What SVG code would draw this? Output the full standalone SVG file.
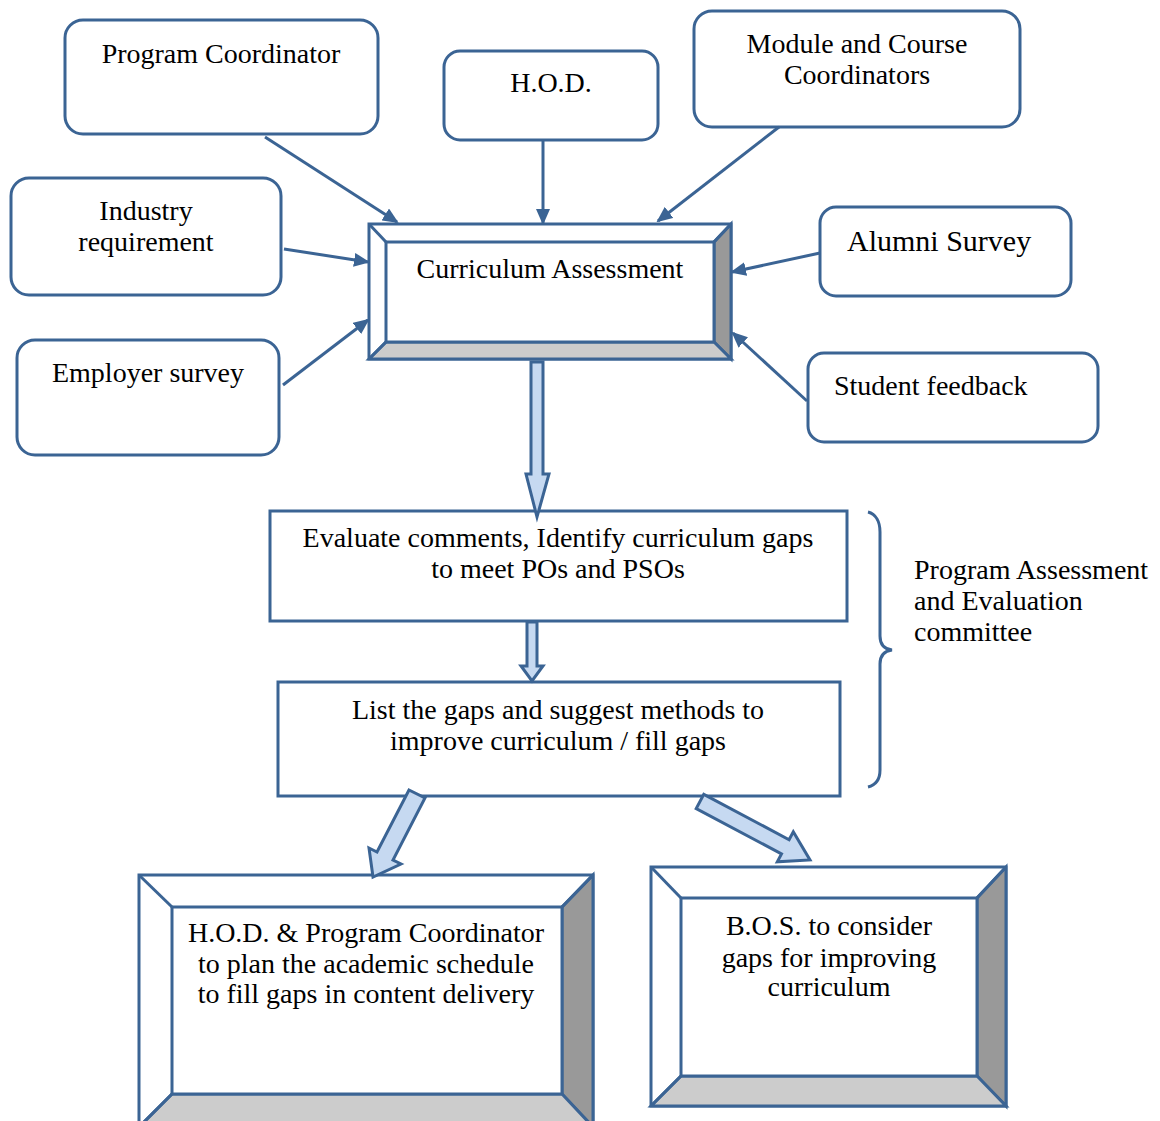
<svg xmlns="http://www.w3.org/2000/svg" width="1160" height="1121" viewBox="0 0 1160 1121">
<style>
.box{fill:#fff;stroke:#3B6494;stroke-width:3}
.ln{fill:none;stroke:#3B6494;stroke-width:3}
.blk{fill:#C6D9F1;stroke:#3B6494;stroke-width:3;stroke-linejoin:miter}
.dk{fill:#999999;stroke:#3B6494;stroke-width:3}
.lt{fill:#CCCCCC;stroke:#3B6494;stroke-width:3}
text{font-family:"Liberation Serif","Times New Roman",serif;font-size:28px;fill:#000}
.c{text-anchor:middle}
</style>
<defs>
<marker id="ah" markerUnits="userSpaceOnUse" markerWidth="16" markerHeight="14" refX="14" refY="7" orient="auto">
<path d="M0,0 L16,7 L0,14 Z" fill="#3B6494"/>
</marker>
</defs>
<rect width="1160" height="1121" fill="#fff"/>

<g id="program-coordinator">
<rect class="box" x="65" y="20" width="313" height="114" rx="18"/>
<text class="c" x="221" y="63">Program Coordinator</text>
</g>
<g id="hod">
<rect class="box" x="444" y="51" width="214" height="89" rx="16"/>
<text class="c" x="551" y="92">H.O.D.</text>
</g>
<g id="module-course">
<rect class="box" x="694" y="11" width="326" height="116" rx="18"/>
<text class="c" x="857" y="53">Module and Course</text>
<text class="c" x="857" y="84">Coordinators</text>
</g>
<g id="industry">
<rect class="box" x="11" y="178" width="270" height="117" rx="18"/>
<text class="c" x="146" y="220">Industry</text>
<text class="c" x="146" y="251">requirement</text>
</g>
<g id="employer">
<rect class="box" x="17" y="340" width="262" height="115" rx="18"/>
<text class="c" x="148" y="382">Employer survey</text>
</g>
<g id="alumni">
<rect class="box" x="820" y="207" width="251" height="89" rx="16"/>
<text x="847" y="251" style="font-size:30px">Alumni Survey</text>
</g>
<g id="student">
<rect class="box" x="808" y="353" width="290" height="89" rx="16"/>
<text x="834" y="395">Student feedback</text>
</g>

<g id="curriculum-assessment">
<rect class="box" x="369" y="224" width="362" height="135"/>
<polygon class="dk" points="714,242 731,224 731,359 714,342"/>
<polygon class="lt" points="386,342 714,342 731,359 369,359"/>
<line class="ln" x1="369" y1="224" x2="386" y2="242"/>
<line class="ln" x1="731" y1="224" x2="714" y2="242"/>
<line class="ln" x1="369" y1="359" x2="386" y2="342"/>
<rect class="box" x="386" y="242" width="328" height="100"/>
<text class="c" x="550" y="278">Curriculum Assessment</text>
</g>

<g id="evaluate">
<rect class="box" x="270" y="511" width="577" height="110"/>
<text class="c" x="558" y="547">Evaluate comments, Identify curriculum gaps</text>
<text class="c" x="558" y="578">to meet POs and PSOs</text>
</g>
<g id="list-gaps">
<rect class="box" x="278" y="682" width="562" height="114"/>
<text class="c" x="558" y="719">List the gaps and suggest methods to</text>
<text class="c" x="558" y="750">improve curriculum / fill gaps</text>
</g>

<g id="hod-plan">
<rect class="box" x="139" y="875" width="454" height="252"/>
<polygon class="dk" points="562,907 593,875 593,1127 562,1094"/>
<polygon class="lt" points="172,1094 562,1094 593,1127 139,1127"/>
<line class="ln" x1="139" y1="875" x2="172" y2="907"/>
<line class="ln" x1="593" y1="875" x2="562" y2="907"/>
<line class="ln" x1="139" y1="1127" x2="172" y2="1094"/>
<rect class="box" x="172" y="907" width="390" height="187"/>
<text class="c" x="366" y="942">H.O.D. &amp; Program Coordinator</text>
<text class="c" x="366" y="973">to plan the academic schedule</text>
<text class="c" x="366" y="1003">to fill gaps in content delivery</text>
</g>

<g id="bos">
<rect class="box" x="651" y="867" width="355" height="239"/>
<polygon class="dk" points="977,898 1006,867 1006,1106 977,1076"/>
<polygon class="lt" points="681,1076 977,1076 1006,1106 651,1106"/>
<line class="ln" x1="651" y1="867" x2="681" y2="898"/>
<line class="ln" x1="1006" y1="867" x2="977" y2="898"/>
<line class="ln" x1="651" y1="1106" x2="681" y2="1076"/>
<rect class="box" x="681" y="898" width="296" height="178"/>
<text class="c" x="829" y="935">B.O.S. to consider</text>
<text class="c" x="829" y="967">gaps for improving</text>
<text class="c" x="829" y="996">curriculum</text>
</g>

<g id="committee">
<path class="ln" d="M868,512 C876,514 880,522 880,532 L880,636 C880,644 884,649 892,650 C884,651 880,656 880,664 L880,770 C880,780 876,785 868,787"/>
<text x="914" y="579">Program Assessment</text>
<text x="914" y="610">and Evaluation</text>
<text x="914" y="641">committee</text>
</g>

<g id="connectors">
<line class="ln" x1="265" y1="137" x2="397" y2="222" marker-end="url(#ah)"/>
<line class="ln" x1="543" y1="140" x2="543" y2="223" marker-end="url(#ah)"/>
<line class="ln" x1="779" y1="127" x2="658" y2="221" marker-end="url(#ah)"/>
<line class="ln" x1="284" y1="249" x2="368" y2="262" marker-end="url(#ah)"/>
<line class="ln" x1="283" y1="385" x2="368" y2="320" marker-end="url(#ah)"/>
<line class="ln" x1="820" y1="253" x2="732" y2="272" marker-end="url(#ah)"/>
<line class="ln" x1="807" y1="401" x2="733" y2="333" marker-end="url(#ah)"/>
<polygon class="blk" points="531,362 543,362 543,474 549,474 537,517 526,474 531,474"/>
<polygon class="blk" points="527,622 537,622 537,666 543,666 532,681 521,666 527,666"/>
<polygon class="blk" points="409,790 425,798 393,860 401,864 373,877 369,848 377,852"/>
<polygon class="blk" points="703.8,794.4 789.1,839.7 793.3,831.8 810,860 777.3,861.8 781.5,853.9 696.2,808.6"/>
</g>
</svg>
